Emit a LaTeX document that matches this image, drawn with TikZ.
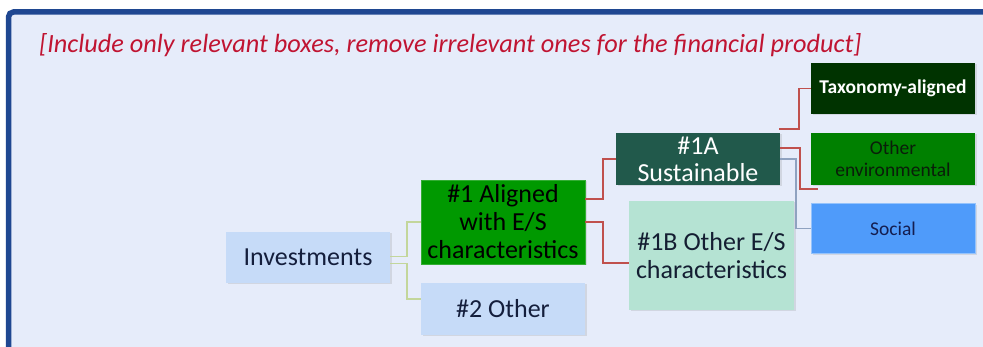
\documentclass[tikz,border=0pt]{standalone}
\usepackage{fontspec}
\setmainfont{Carlito}
\usetikzlibrary{shadows}
\definecolor{cadre}{RGB}{31,71,145}
\definecolor{fond}{RGB}{230,236,250}
\definecolor{titre}{RGB}{192,20,50}
\definecolor{bleuclair}{RGB}{198,219,248}
\definecolor{vert}{RGB}{0,153,0}
\definecolor{vertfonce}{RGB}{33,89,75}
\definecolor{menthe}{RGB}{181,227,211}
\definecolor{taxo}{RGB}{0,51,0}
\definecolor{envir}{RGB}{0,128,0}
\definecolor{social}{RGB}{79,155,250}
\definecolor{lienrouge}{RGB}{192,80,77}
\definecolor{lienolive}{RGB}{195,214,155}
\definecolor{liengris}{RGB}{143,162,192}
\newcommand{\grand}{\fontsize{26}{28}\selectfont}
\newcommand{\petit}{\fontsize{19.5}{22}\selectfont}

\begin{document}
\begin{tikzpicture}[x=1pt,y=-1pt,
	boite/.style={minimum width=164pt, inner sep=0pt, align=center, font=\grand,
		drop shadow={shadow xshift=1.5pt, shadow yshift=-1.5pt, opacity=0.2}},
	lien/.style={line width=1.6pt}]
			\useasboundingbox (0,0) rectangle (983,347);
			\fill[white] (0,0) rectangle (983,347);
			\begin{scope}
			\clip (0,0) rectangle (983,347);
			% Cadre
			\draw[line width=5.5pt, draw=cadre, fill=fond, rounded corners=5pt]
				(8.5,12) rectangle (1010,380);
			\end{scope}
			
			% Consigne
			\node[anchor=west, text=titre, inner sep=0pt, font=\fontsize{26.3}{28}\selectfont\itshape]
				(consigne) at (39,45)
				{[Include only relevant boxes, remove irrelevant ones for the financial product]};
			
			% Boites
			\node[boite, fill=bleuclair, minimum height=51pt, text={rgb,255:red,20;green,30;blue,60}]
				(inv) at (308,257.5) {Investments};
			\node[boite, fill=vert, minimum height=84pt, draw=vert!80!white]
				(al) at (503,222) {\#1 Aligned\\ with E/S\\ characteristics};
			\node[boite, fill=bleuclair, minimum height=52pt, text={rgb,255:red,20;green,30;blue,60}]
				(oth) at (503,309) {\#2 Other};
			\node[boite, fill=vertfonce, minimum height=52pt, text=white, font=\fontsize{26}{27}\selectfont]
				(sus) at (698,159) {\#1A\\ Sustainable};
			\node[boite, fill=menthe, minimum width=165pt, minimum height=109pt, text={rgb,255:red,20;green,30;blue,50}]
				(oes) at (711.5,255.5) {\#1B Other E/S\\ characteristics};
			\node[boite, fill=taxo, minimum height=51pt, text=white, font=\petit\bfseries]
				(tax) at (893,88.5) {Taxonomy-aligned};
			\node[boite, fill=envir, minimum height=52pt, text={rgb,255:red,10;green,30;blue,10}, font=\petit]
				(env) at (893,159) {Other\\ environmental};
			\node[boite, fill=social, minimum height=50pt, draw=social!60!white, text={rgb,255:red,20;green,30;blue,80}, font=\petit]
				(soc) at (893,228.5) {Social};
			
			% Liens Investments
			\draw[lien, lienolive] ([yshift=1pt]inv.east)
				-| ([xshift=-14pt]al.west) -- (al.west);
			\draw[lien, lienolive] ([yshift=-6pt]inv.east)
				-| ([xshift=-14pt,yshift=10pt]oth.west) -- ([yshift=10pt]oth.west);
			
			% Liens #1
			\draw[lien, lienrouge] ([yshift=23pt]al.east)
				-| ([xshift=-13pt]sus.west) -- (sus.west);
			\draw[lien, lienrouge] (al.east)
				-| ([xshift=-26pt,yshift=-7.5pt]oes.west) -- ([yshift=-7.5pt]oes.west);
			
			% Liens #1A
			\draw[lien, lienrouge] ([xshift=-1pt,yshift=4pt]sus.north east)
				-| ([xshift=-12pt]tax.west) -- (tax.west);
			\draw[lien, lienrouge] ([yshift=11pt]sus.east)
				-| ([xshift=-11pt,yshift=-4pt]env.south west) -- ([xshift=7pt,yshift=-4pt]env.south west);
			\draw[lien, liengris] (sus.east)
				-| ([xshift=-15pt]soc.west) -- (soc.west);
		\end{tikzpicture}
\end{document}
